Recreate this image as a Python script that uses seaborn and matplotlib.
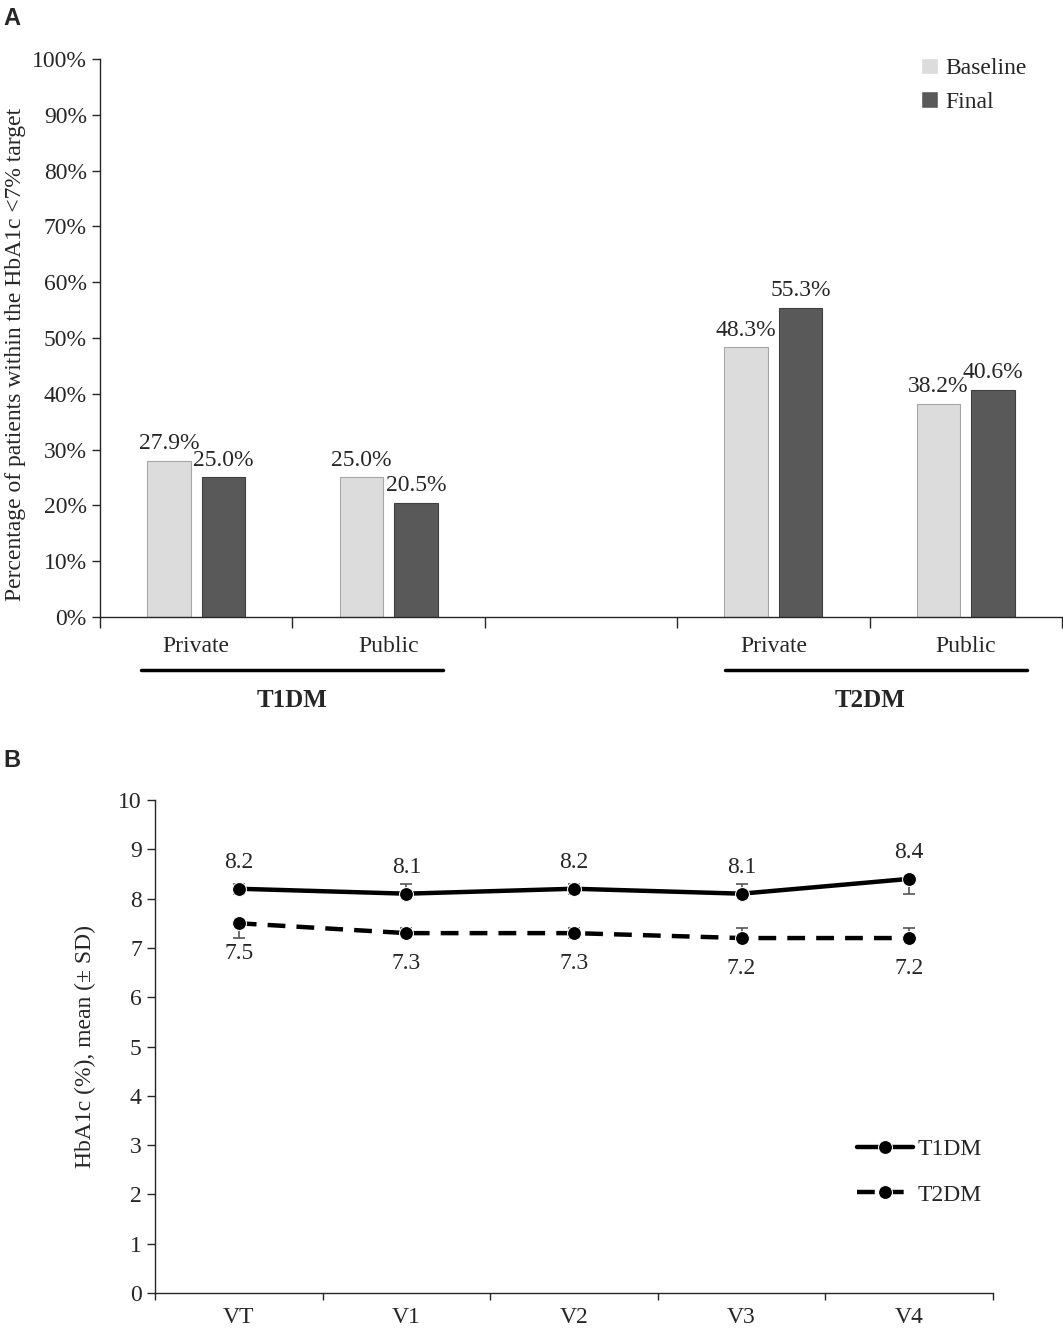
import numpy as np
import pandas as pd
import matplotlib
matplotlib.use("Agg")
import matplotlib.pyplot as plt
import matplotlib.transforms as mtransforms
import seaborn as sns

# ---- panel A data: % of patients within HbA1c <7% target
a_slots = ["T1_Private", "T1_Public", "blank", "T2_Private", "T2_Public"]
a_ticklabels = ["Private", "Public", "", "Private", "Public"]
a_cats = ["T1_Private", "T1_Public", "T2_Private", "T2_Public"]
baseline_pct = [27.9, 25.0, 48.3, 38.2]
final_pct = [25.0, 20.5, 55.3, 40.6]
a_groups = ["T1DM", "T2DM"]

# ---- panel B data: HbA1c mean (± SD) per visit
visits = ["VT", "V1", "V2", "V3", "V4"]
t1_mean = [8.2, 8.1, 8.2, 8.1, 8.4]
t2_mean = [7.5, 7.3, 7.3, 7.2, 7.2]
t1_sd_low = [0.1, 0.0, 0.1, 0.0, 0.3]
t1_sd_high = [0.1, 0.2, 0.1, 0.2, 0.0]
t2_sd_low = [0.3, 0.05, 0.1, 0.0, 0.0]
t2_sd_high = [0.0, 0.1, 0.1, 0.2, 0.2]

sns.set_style("ticks")
plt.rcParams["font.family"] = ["Liberation Serif", "DejaVu Serif"]
plt.rcParams["axes.linewidth"] = 1.0
FS = 17

fig = plt.figure(figsize=(10.63, 13.34), dpi=100)
axA = fig.add_axes([0.0941, 0.5375, 0.905, 0.4183])
axB = fig.add_axes([0.1458, 0.0307, 0.7883, 0.3696])

# ================= panel A =================
dfA = pd.DataFrame({
    "cat": a_cats * 2,
    "pct": baseline_pct + final_pct,
    "time": ["Baseline"] * len(a_cats) + ["Final"] * len(a_cats),
})
sns.barplot(data=dfA, x="cat", y="pct", hue="time", order=a_slots,
            hue_order=["Baseline", "Final"],
            palette={"Baseline": "#dcdcdc", "Final": "#595959"},
            width=0.566, gap=0.2, ax=axA)
edges = {"Baseline": "#a6a6a6", "Final": "#404040"}
for cont, lvl in zip(axA.containers, ["Baseline", "Final"]):
    for p in cont:
        p.set_edgecolor(edges[lvl])
        p.set_linewidth(0.8)
    axA.bar_label(cont, fmt="{:.1f}%", padding=5, fontsize=FS)

axA.set_xlim(-0.5, 4.5)
axA.set_ylim(0, 100)
axA.set_yticks(np.arange(0, 101, 10))
axA.set_yticklabels([f"{v}%" for v in range(0, 101, 10)], fontsize=FS)
axA.set_xticks(np.arange(-0.5, 4.6, 1.0))
axA.set_xticklabels([])
axA.set_xticks(np.arange(len(a_slots)), minor=True)
axA.set_xticklabels(a_ticklabels, minor=True, fontsize=FS)
axA.tick_params(axis="x", which="major", length=8, width=1)
axA.tick_params(axis="x", which="minor", length=0, pad=14)
axA.tick_params(axis="y", length=6, width=1)
axA.set_xlabel("")
axA.set_ylabel("Percentage of patients within the HbA1c <7% target", fontsize=FS)
axA.yaxis.set_label_coords(-0.077, 0.47)
sns.despine(ax=axA)

trA = mtransforms.blended_transform_factory(axA.transData, axA.transAxes)
for (x0, x1, xc), name in zip([(-0.287, 1.282, 0.5), (2.747, 4.316, 3.5)], a_groups):
    axA.plot([x0, x1], [-0.095, -0.095], color="black", lw=2.5,
             transform=trA, clip_on=False)
    axA.text(xc, -0.15, name, transform=trA, ha="center", va="center",
             fontsize=FS + 1, fontweight="bold")

legA = axA.legend(loc="upper right", bbox_to_anchor=(0.985, 1.04), frameon=False,
                  fontsize=FS, handlelength=0.7, handleheight=0.7,
                  handletextpad=0.3, labelspacing=0.5)

# ================= panel B =================
dfB = pd.DataFrame({
    "visit": visits * 2,
    "hba1c": t1_mean + t2_mean,
    "type": ["T1DM"] * len(visits) + ["T2DM"] * len(visits),
})
sns.lineplot(data=dfB, x="visit", y="hba1c", style="type",
             style_order=["T1DM", "T2DM"], markers=["o", "o"],
             dashes=["", (4.0, 2.5)], color="black", lw=3.2, markersize=10,
             ax=axB)
handles, labels = axB.get_legend_handles_labels()
axB.legend(handles, labels, loc="center left", bbox_to_anchor=(0.812, 0.245),
           frameon=False, fontsize=FS, handlelength=2.4, handletextpad=0.2,
           labelspacing=1.0)

pos = np.arange(len(visits))
axB.errorbar(pos, t1_mean, yerr=[t1_sd_low, t1_sd_high], fmt="none",
             ecolor="#555555", elinewidth=1.2, capsize=4, capthick=1.2, zorder=1)
axB.errorbar(pos, t2_mean, yerr=[t2_sd_low, t2_sd_high], fmt="none",
             ecolor="#555555", elinewidth=1.2, capsize=4, capthick=1.2, zorder=1)

for x, v in zip(pos, t1_mean):
    axB.annotate(f"{v:.1f}", (x, v), xytext=(0, 19), textcoords="offset points",
                 ha="center", va="center", fontsize=FS)
for x, v in zip(pos, t2_mean):
    axB.annotate(f"{v:.1f}", (x, v), xytext=(0, -22), textcoords="offset points",
                 ha="center", va="center", fontsize=FS)

axB.set_xlim(-0.5, 4.5)
axB.set_ylim(0, 10)
axB.set_yticks(range(0, 11))
axB.set_yticklabels([str(v) for v in range(0, 11)], fontsize=FS)
axB.set_xticks(np.arange(-0.5, 4.6, 1.0))
axB.set_xticklabels([])
axB.set_xticks(pos, minor=True)
axB.set_xticklabels(visits, minor=True, fontsize=FS)
axB.tick_params(axis="x", which="major", length=5, width=1)
axB.tick_params(axis="x", which="minor", length=0, pad=10)
axB.tick_params(axis="y", length=6, width=1)
axB.set_xlabel("")
axB.set_ylabel("HbA1c (%), mean (\u00b1 SD)", fontsize=FS, labelpad=16)
sns.despine(ax=axB)

# panel letters
fig.text(0.003, 0.986, "A", fontsize=17, fontweight="bold",
         family=["Liberation Sans", "DejaVu Sans"], va="center")
fig.text(0.003, 0.430, "B", fontsize=17, fontweight="bold",
         family=["Liberation Sans", "DejaVu Sans"], va="center")

fig.savefig("out.png", dpi=100)
